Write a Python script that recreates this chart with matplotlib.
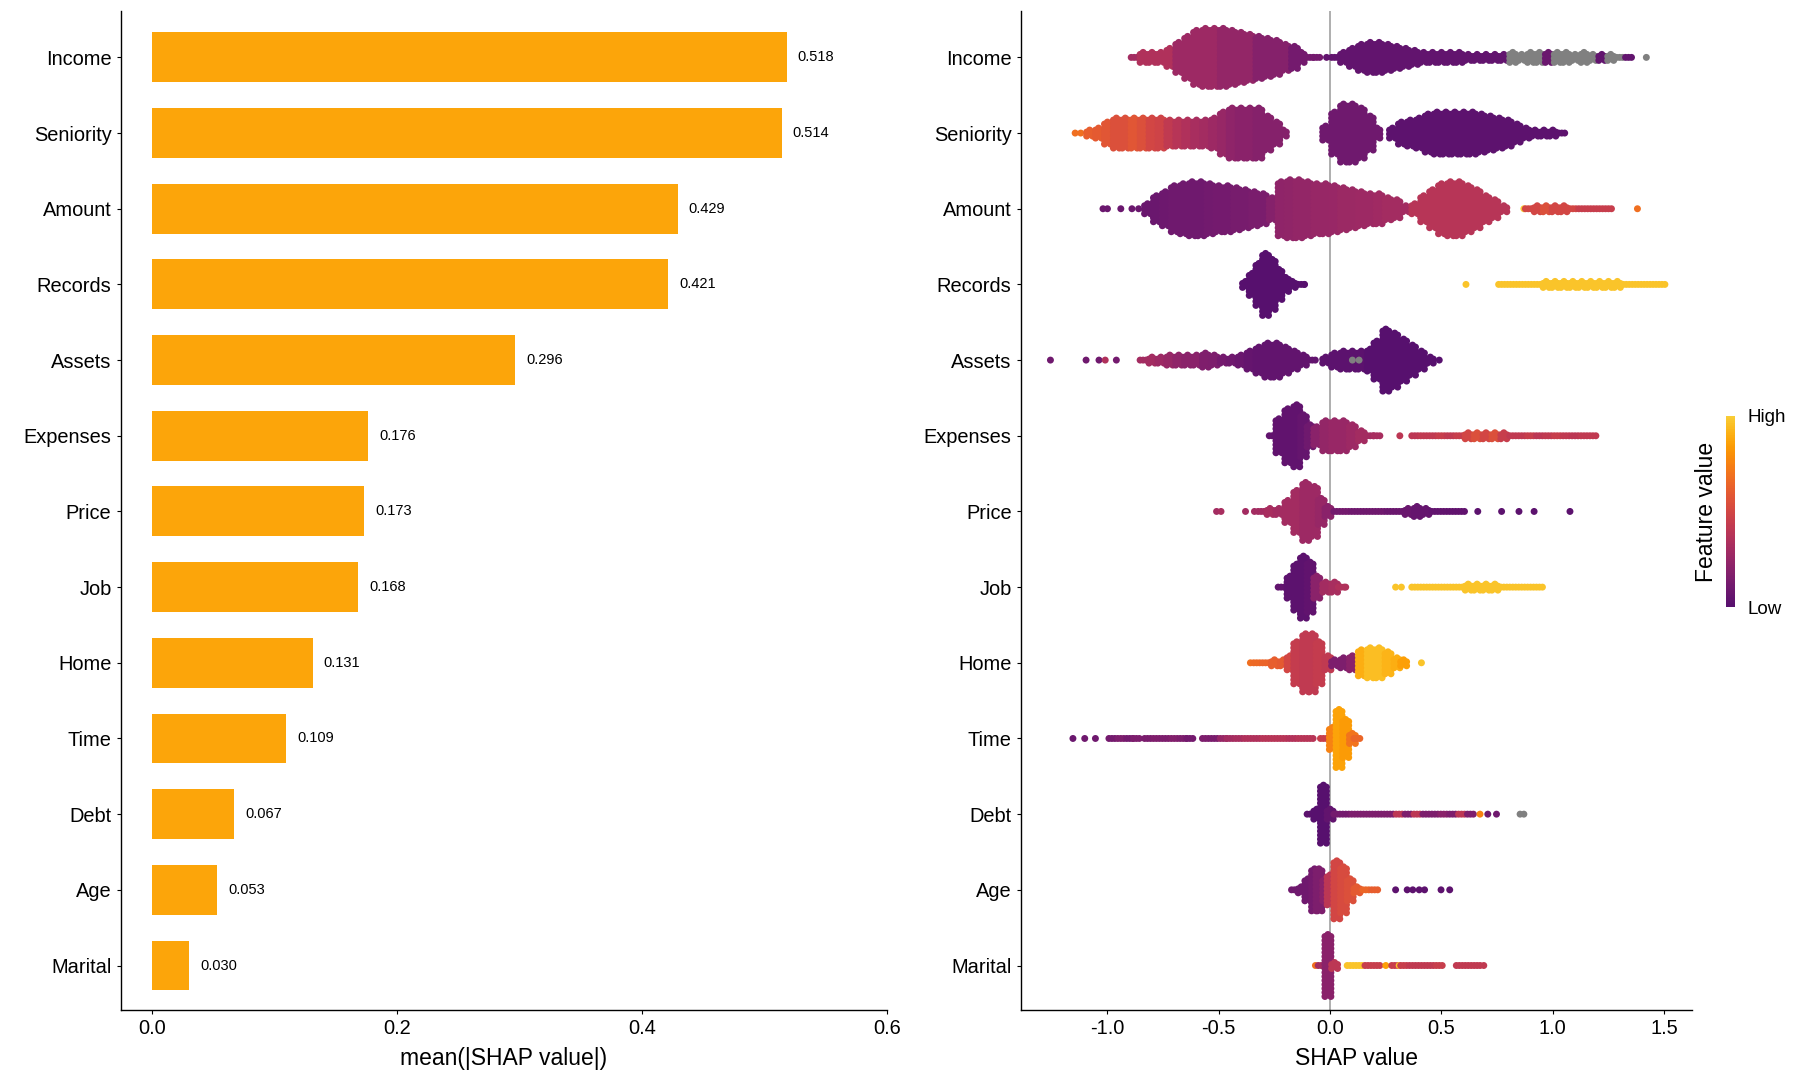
import matplotlib
matplotlib.use('Agg')
import matplotlib.pyplot as plt
import numpy as np
from matplotlib.colors import ListedColormap, Normalize
from matplotlib import cm

plt.rcParams['font.family'] = ['Liberation Sans', 'DejaVu Sans']
plt.rcParams['axes.unicode_minus'] = False

# ---------------- data ----------------
features = ['Income', 'Seniority', 'Amount', 'Records', 'Assets', 'Expenses',
            'Price', 'Job', 'Home', 'Time', 'Debt', 'Age', 'Marital']
mean_abs_shap = [0.518, 0.514, 0.429, 0.421, 0.296, 0.176,
                 0.173, 0.168, 0.131, 0.109, 0.067, 0.053, 0.030]

# beeswarm: bin centre (SHAP value), dots per column
# (0 = one lone dot) and mean feature value of the bin (0 low .. 1 high, None = NA)
income_x = [-0.88, -0.84, -0.80, -0.76, -0.72, -0.68, -0.64, -0.60, -0.56, -0.52, -0.48, -0.44, -0.40, -0.36,
            -0.32, -0.28, -0.24, -0.20, -0.16, -0.13, -0.09, -0.06, -0.016, 0.02, 0.06, 0.10, 0.14, 0.18, 0.22,
            0.26, 0.30, 0.34, 0.38, 0.42, 0.46, 0.50, 0.54, 0.58, 0.62, 0.66, 0.70, 0.74, 0.78, 0.82, 0.86,
            0.90, 0.94, 0.98, 1.02, 1.06, 1.10, 1.14, 1.18, 1.22, 1.26, 1.30, 1.34, 1.42]
income_n = [1, 3, 3, 3, 5, 8, 11, 14, 15, 15, 15, 14, 13, 12, 11, 10, 9, 7, 6, 3, 1, 1, 0, 1, 3, 5, 7, 8, 8,
            7, 6, 5, 4, 3, 3, 3, 3, 3, 2, 2, 2, 2, 2, 3, 2, 3, 3, 3, 3, 3, 2, 3, 2, 2, 2, 1, 1, 0]
income_c = [0.3, 0.35, 0.35, 0.35, 0.35, 0.28, 0.28, 0.28, 0.28, 0.28, 0.24, 0.24, 0.24, 0.24,
            0.18, 0.18, 0.18, 0.18, 0.12, 0.12, 0.12, 0.12, 0.05, 0.05, 0.05, 0.05, 0.05, 0.05, 0.05,
            0.05, 0.05, 0.05, 0.05, 0.05, 0.05, 0.05, 0.05, 0.05, 0.05, 0.05, 0.05, 0.05, 0.05, None, None,
            None, None, 0.08, None, None, None, None, None, 0.05, None, None, 0.05, None]

seniority_x = [-1.145, -1.12, -1.08, -1.04, -1.00, -0.96, -0.92, -0.88, -0.84, -0.80, -0.76, -0.72, -0.68,
               -0.64, -0.60, -0.56, -0.52, -0.48, -0.44, -0.40, -0.36, -0.32, -0.28, -0.24, -0.21, -0.02,
               0.02, 0.06, 0.10, 0.14, 0.18, 0.21, 0.28, 0.32, 0.36, 0.40, 0.44, 0.48, 0.52, 0.56, 0.60,
               0.64, 0.68, 0.72, 0.76, 0.80, 0.84, 0.88, 0.92, 0.96, 1.00, 1.04]
seniority_n = [0, 0, 2, 3, 6, 8, 8, 8, 8, 8, 8, 7, 7, 7, 7, 7, 8, 11, 13, 13, 13, 13, 9, 6, 2, 4,
               11, 15, 15, 13, 9, 3, 3, 6, 7, 8, 10, 11, 11, 11, 11, 11, 10, 9, 8, 7, 5, 3, 2, 2, 2, 1]
seniority_c = [0.68, 0.68, 0.62, 0.6, 0.58, 0.55, 0.55, 0.58, 0.55, 0.5, 0.48, 0.42, 0.38, 0.35, 0.32,
               0.3, 0.28, 0.25, 0.22, 0.2, 0.2, 0.18, 0.18, 0.18, 0.18,
               0.1, 0.1, 0.1, 0.1, 0.1, 0.1, 0.1,
               0.03, 0.03, 0.03, 0.03, 0.03, 0.03, 0.03, 0.03, 0.03, 0.03, 0.03, 0.03, 0.03, 0.03,
               0.03, 0.03, 0.03, 0.03, 0.03, 0.03]

amount_x = [-1.02, -1.00, -0.94, -0.89, -0.86, -0.82, -0.78, -0.74, -0.70, -0.66, -0.62, -0.58, -0.54,
            -0.50, -0.46, -0.42, -0.38, -0.34, -0.30, -0.26, -0.22, -0.18, -0.14, -0.10, -0.06, -0.02,
            0.02, 0.06, 0.10, 0.14, 0.18, 0.22, 0.26, 0.30, 0.34, 0.38, 0.42, 0.46, 0.50, 0.54, 0.58,
            0.62, 0.66, 0.70, 0.74, 0.78, 0.87, 0.89, 0.93, 0.97, 1.01, 1.05, 1.09, 1.13, 1.17, 1.21,
            1.25, 1.38]
amount_n = [0, 0, 0, 0, 0, 3, 7, 9, 12, 13, 14, 14, 13, 12, 12, 11, 10, 9, 8, 6, 14, 15, 15, 14, 13,
            13, 12, 11, 10, 9, 8, 8, 6, 5, 2, 3, 7, 10, 13, 14, 14, 12, 10, 7, 5, 2, 0, 1, 2, 2, 2, 2,
            1, 1, 1, 1, 1, 0]
amount_c = [0.08, 0.08, 0.08, 0.08, 0.08, 0.08, 0.08, 0.09, 0.1, 0.1, 0.1, 0.1, 0.11, 0.12, 0.12,
            0.13, 0.13, 0.14, 0.14, 0.18, 0.22, 0.23, 0.24, 0.24, 0.25, 0.25, 0.26, 0.27, 0.27, 0.28,
            0.28, 0.29, 0.3, 0.3, 0.3, 0.38, 0.38, 0.38, 0.38, 0.38, 0.38, 0.38, 0.38, 0.38, 0.38,
            0.38, 1.0, 0.5, 0.5, 0.55, 0.5, 0.5, 0.5, 0.45, 0.45, 0.45, 0.45, 0.68]

records_x = [-0.38, -0.35, -0.32, -0.29, -0.26, -0.23, -0.20, -0.17, -0.13, -0.115, 0.61, 0.77, 0.81,
             0.85, 0.89, 0.93, 0.97, 1.01, 1.05, 1.09, 1.13, 1.17, 1.21, 1.25, 1.29, 1.33, 1.37, 1.41,
             1.45, 1.49]
records_n = [2, 6, 11, 16, 13, 8, 4, 2, 1, 0, 0, 1, 1, 1, 1, 1, 2, 2, 2, 2, 2, 2, 2, 2, 2, 1, 1, 1, 1, 1]
records_c = [0.0] * 10 + [0.97] * 20

assets_x = [-1.256, -1.096, -1.038, -1.01, -0.96, -0.84, -0.80, -0.76, -0.72, -0.68, -0.64, -0.60,
            -0.56, -0.52, -0.48, -0.44, -0.40, -0.36, -0.32, -0.28, -0.24, -0.20, -0.16, -0.12, -0.08,
            -0.02, 0.02, 0.06, 0.10, 0.14, 0.18, 0.21, 0.25, 0.29, 0.33, 0.37, 0.41, 0.45, 0.49, 0.10, 0.13]
assets_n = [0, 0, 0, 0, 0, 1, 2, 2, 3, 3, 3, 3, 4, 3, 2, 2, 3, 5, 7, 9, 9, 7, 5, 3, 1,
            2, 4, 5, 5, 5, 6, 10, 16, 14, 11, 8, 5, 2, 0, 0, 0]
assets_c = [0.1, 0.1, 0.1, 0.35, 0.12, 0.3, 0.3, 0.28, 0.25, 0.22, 0.2, 0.2, 0.16, 0.15, 0.12,
            0.1, 0.08, 0.06, 0.05, 0.05, 0.05, 0.05, 0.05, 0.05, 0.05,
            0.03, 0.02, 0.02, 0.02, 0.02, 0.0, 0.0, 0.0, 0.0, 0.0, 0.0, 0.0, 0.0, 0.0, None, None]

expenses_x = [-0.26, -0.23, -0.19, -0.15, -0.12, -0.09, -0.06, -0.02, 0.02, 0.06, 0.10, 0.14, 0.18,
              0.21, 0.313, 0.38, 0.42, 0.46, 0.50, 0.54, 0.58, 0.62, 0.66, 0.70, 0.74, 0.78, 0.82,
              0.86, 0.90, 0.94, 0.98, 1.02, 1.06, 1.10, 1.14, 1.18]
expenses_n = [1, 9, 14, 16, 11, 6, 5, 8, 8, 8, 6, 3, 1, 1, 0, 1, 1, 1, 1, 1, 1, 2, 2, 2, 2, 2,
              1, 1, 1, 1, 1, 1, 1, 1, 1, 1]
expenses_c = [0.05, 0.04, 0.04, 0.04, 0.06, 0.1, 0.2, 0.24, 0.26, 0.26, 0.28, 0.3, 0.3, 0.32, 0.4,
              0.4, 0.42, 0.42, 0.45, 0.42, 0.45, 0.5, 0.55, 0.5, 0.55, 0.45, 0.42, 0.42, 0.45, 0.4,
              0.42, 0.45, 0.42, 0.4, 0.42, 0.42]

price_x = [-0.51, -0.49, -0.38, -0.34, -0.31, -0.27, -0.23, -0.19, -0.15, -0.11, -0.07, -0.04, -0.01,
           0.03, 0.07, 0.11, 0.15, 0.19, 0.23, 0.27, 0.31, 0.35, 0.39, 0.43, 0.47, 0.51, 0.55, 0.59,
           0.663, 0.770, 0.848, 0.916, 1.077]
price_n = [0, 0, 0, 0, 1, 2, 2, 6, 11, 15, 13, 7, 3, 1, 1, 1, 1, 1, 1, 1, 1, 2, 3, 2, 1, 1, 1, 1,
           0, 0, 0, 0, 0]
price_c = [0.3, 0.32, 0.3, 0.3, 0.3, 0.32, 0.3, 0.3, 0.3, 0.28, 0.28, 0.25, 0.2, 0.12, 0.12, 0.1,
           0.1, 0.1, 0.1, 0.08, 0.08, 0.08, 0.06, 0.06, 0.05, 0.05, 0.04, 0.04, 0.02, 0.02, 0.02,
           0.02, 0.02]

job_x = [-0.22, -0.18, -0.15, -0.12, -0.09, -0.06, -0.02, 0.02, 0.05, 0.07, 0.294, 0.32, 0.38, 0.42,
         0.46, 0.50, 0.54, 0.58, 0.62, 0.66, 0.70, 0.74, 0.78, 0.82, 0.86, 0.90, 0.94]
job_n = [1, 6, 12, 16, 13, 6, 3, 3, 1, 0, 0, 0, 1, 1, 1, 1, 1, 1, 2, 2, 2, 2, 1, 1, 1, 1, 1]
job_c = [0.05, 0.03, 0.02, 0.02, 0.04, 0.2, 0.3, 0.32, 0.35, 0.35] + [0.97] * 17

home_x = [-0.358, -0.33, -0.29, -0.25, -0.21, -0.18, -0.15, -0.11, -0.08, -0.05, -0.01, 0.02, 0.06,
          0.10, 0.14, 0.18, 0.22, 0.26, 0.30, 0.33, 0.41]
home_n = [0, 1, 1, 2, 2, 4, 11, 15, 15, 11, 4, 2, 3, 4, 7, 8, 8, 6, 3, 2, 0]
home_c = [0.68, 0.66, 0.64, 0.62, 0.6, 0.5, 0.44, 0.42, 0.42, 0.44, 0.42, 0.15, 0.15, 0.2, 0.9,
          0.95, 0.95, 0.92, 0.9, 0.85, 0.97]

time_x = [-1.155, -1.102, -1.054, -0.98, -0.94, -0.90, -0.87, -0.82, -0.78, -0.74, -0.70, -0.66,
          -0.63, -0.56, -0.52, -0.48, -0.45, -0.41, -0.37, -0.33, -0.29, -0.25, -0.21, -0.17, -0.13,
          -0.09, -0.03, 0.01, 0.04, 0.07, 0.10, 0.12]
time_n = [0, 0, 0, 1, 1, 1, 1, 1, 1, 1, 1, 1, 1, 1, 1, 1, 1, 1, 1, 1, 1, 1, 1, 1, 1, 1,
          1, 6, 15, 10, 3, 1]
time_c = [0.08, 0.1, 0.1, 0.12, 0.15, 0.12, 0.15, 0.14, 0.16, 0.15, 0.17, 0.15, 0.12, 0.15, 0.14,
          0.25, 0.3, 0.32, 0.35, 0.35, 0.38, 0.38, 0.38, 0.36, 0.38, 0.38, 0.45, 0.75, 0.86, 0.84,
          0.7, 0.65]

debt_x = [-0.09, -0.06, -0.03, 0.0, 0.03, 0.07, 0.11, 0.15, 0.19, 0.23, 0.27, 0.31, 0.35, 0.39, 0.43,
          0.47, 0.51, 0.55, 0.59, 0.63, 0.673, 0.708, 0.747, 0.853, 0.87]
debt_n = [1, 3, 15, 3, 1, 1, 1, 1, 1, 1, 1, 1, 1, 1, 1, 1, 1, 1, 1, 1, 0, 0, 0, 0, 0]
debt_c = [0.02, 0.0, 0.0, 0.05, 0.12, 0.12, 0.15, 0.15, 0.15, 0.15, 0.15, 0.4, 0.15, 0.4, 0.15,
          0.15, 0.2, 0.15, 0.4, 0.15, 0.75, 0.1, 0.1, None, None]

age_x = [-0.16, -0.13, -0.10, -0.07, -0.05, -0.02, 0.0, 0.03, 0.06, 0.09, 0.12, 0.16, 0.20, 0.294,
         0.346, 0.371, 0.40, 0.424, 0.498, 0.537]
age_n = [1, 2, 6, 11, 11, 6, 8, 15, 12, 6, 2, 1, 1, 0, 0, 0, 0, 0, 0, 0]
age_c = [0.1, 0.1, 0.1, 0.12, 0.15, 0.2, 0.4, 0.5, 0.52, 0.55, 0.6, 0.65, 0.62, 0.03, 0.03, 0.03,
         0.03, 0.03, 0.03, 0.03]

marital_x = [-0.066, -0.04, -0.01, 0.02, 0.09, 0.13, 0.17, 0.21, 0.25, 0.29, 0.31, 0.33, 0.37, 0.41,
             0.45, 0.49, 0.58, 0.62, 0.66, 0.69]
marital_n = [0, 1, 16, 2, 1, 1, 1, 1, 0, 1, 0, 1, 1, 1, 1, 1, 1, 1, 1, 0]
marital_c = [0.68, 0.3, 0.2, 0.4, 0.97, 0.97, 0.45, 0.45, 0.85, 0.45, 0.97, 0.45, 0.42, 0.42,
             0.42, 0.45, 0.42, 0.42, 0.42, 0.42]

swarm = [(income_x, income_n, income_c), (seniority_x, seniority_n, seniority_c),
         (amount_x, amount_n, amount_c), (records_x, records_n, records_c),
         (assets_x, assets_n, assets_c), (expenses_x, expenses_n, expenses_c),
         (price_x, price_n, price_c), (job_x, job_n, job_c), (home_x, home_n, home_c),
         (time_x, time_n, time_c), (debt_x, debt_n, debt_c), (age_x, age_n, age_c),
         (marital_x, marital_n, marital_c)]

# ---------------- figure ----------------
W, H = 1800, 1080
fig = plt.figure(figsize=(18, 10.8), dpi=100)

bottom = (H - 1010) / H
height = (1010 - 11) / H
ax1 = fig.add_axes([120.5 / W, bottom, (887 - 120.5) / W, height])
ax2 = fig.add_axes([1020.6 / W, bottom, (1692 - 1020.6) / W, height])

ypos = np.arange(len(features))[::-1] + 1
ylim = (0.412, 13.613)
bar_color = '#FCA50A'

bars = ax1.barh(ypos, mean_abs_shap, height=0.66, color=bar_color)
ax1.bar_label(bars, fmt='%.3f', padding=8, fontsize=10.5)
ax1.set_xlim(-0.026, 0.6)
ax1.set_xticks([0, 0.2, 0.4, 0.6], ['0.0', '0.2', '0.4', '0.6'])
ax1.set_xlabel('mean(|SHAP value|)', fontsize=16.5, labelpad=6.5)

cmap = ListedColormap(plt.get_cmap('inferno')(np.linspace(0.25, 0.88, 256)))
na_color = '#808080'

px_per_row = height * H / (ylim[1] - ylim[0])
step = 4.0 / px_per_row        # vertical spacing of stacked dots
bin_w = 0.04                   # width of a bin in SHAP units
ncol = 3

ax2.axvline(0, color='#A8A8A8', lw=1.3, zorder=1)
for y0, (xs, ns, cs) in zip(ypos, swarm):
    assert len(xs) == len(ns) == len(cs)
    px, py, pc = [], [], []
    for x, n, c in zip(xs, ns, cs):
        col = na_color if c is None else cmap(c)
        if n == 0:
            px.append(x); py.append(y0); pc.append(col)
            continue
        for j in range(ncol):
            cx = x + (j - (ncol - 1) / 2) * bin_w / ncol
            shift = 0.5 if (j % 2 == 1 and n > 1) else 0.0
            for k in range(n):
                px.append(cx)
                py.append(y0 + (k - (n - 1) / 2 + shift - 0.25 * (n > 1)) * step)
                pc.append(col)
    ax2.scatter(px, py, s=25, c=pc, linewidths=0, zorder=2)

ax2.set_xlim(-1.39, 1.625)
ax2.set_xticks([-1.0, -0.5, 0.0, 0.5, 1.0, 1.5], ['-1.0', '-0.5', '0.0', '0.5', '1.0', '1.5'])
ax2.set_xlabel('SHAP value', fontsize=16.5, labelpad=6.5)

for ax in (ax1, ax2):
    ax.set_ylim(*ylim)
    ax.set_yticks(ypos, features)
    ax.spines[['top', 'right']].set_visible(False)
    for s in ('left', 'bottom'):
        ax.spines[s].set_linewidth(1.0)
    ax.tick_params(axis='both', length=3, width=0.8, labelsize=14.4, pad=3.5, colors='black')

# colour legend
cax = fig.add_axes([1726 / W, (H - 607) / H, 9 / W, 191 / H])
sm = cm.ScalarMappable(norm=Normalize(0, 1), cmap=cmap)
cb = fig.colorbar(sm, cax=cax)
cb.outline.set_visible(False)
cb.set_ticks([0, 1], labels=['Low', 'High'])
cax.tick_params(length=0, labelsize=13.5, pad=9)
cb.set_label('Feature value', fontsize=16.5, labelpad=6)
cax.yaxis.set_label_position('left')

fig.savefig('out.png', dpi=100)
